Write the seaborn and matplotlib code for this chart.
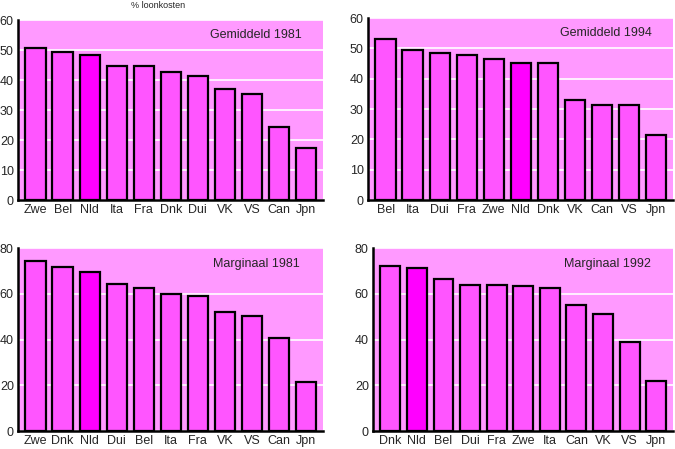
import matplotlib
matplotlib.use("Agg")
import matplotlib.pyplot as plt
import seaborn as sns

# ---------------- data ----------------
gem81_land = ["Zwe", "Bel", "Nld", "Ita", "Fra", "Dnk", "Dui", "VK", "VS", "Can", "Jpn"]
gem81_val = [50.6, 49.2, 48.3, 44.6, 44.6, 42.7, 41.2, 37.0, 35.2, 24.3, 17.3]

gem94_land = ["Bel", "Ita", "Dui", "Fra", "Zwe", "Nld", "Dnk", "VK", "Can", "VS", "Jpn"]
gem94_val = [53.0, 49.4, 48.5, 47.9, 46.4, 45.2, 45.2, 33.0, 31.3, 31.3, 21.3]

marg81_land = ["Zwe", "Dnk", "Nld", "Dui", "Bel", "Ita", "Fra", "VK", "VS", "Can", "Jpn"]
marg81_val = [74.3, 71.7, 69.6, 64.3, 62.5, 60.0, 59.0, 52.2, 50.3, 40.7, 21.6]

marg92_land = ["Dnk", "Nld", "Bel", "Dui", "Fra", "Zwe", "Ita", "Can", "VK", "VS", "Jpn"]
marg92_val = [72.3, 71.2, 66.4, 63.8, 63.8, 63.4, 62.5, 55.0, 51.1, 38.8, 21.8]

titels = ["Gemiddeld 1981", "Gemiddeld 1994", "Marginaal 1981", "Marginaal 1992"]
ytops = [60, 60, 80, 80]
ysteps = [10, 10, 20, 20]

# ---------------- style ----------------
sns.set_style("white")
plt.rcParams["font.family"] = ["Liberation Sans", "DejaVu Sans"]

achtergrond = "#ff99ff"
bar_kleur = "#ff55ff"
nld_kleur = "#ff00ff"

fig = plt.figure(figsize=(6.75, 4.49), dpi=100)
W, H = 675, 449

# axes boxes in pixels: left, top, right, bottom
boxes = [(18, 20, 323, 200), (368, 18, 673, 200), (18, 248, 323, 431), (373, 248, 673, 431)]
panels = [(gem81_land, gem81_val), (gem94_land, gem94_val),
          (marg81_land, marg81_val), (marg92_land, marg92_val)]

for (l, t, r, b), (land, val), titel, ytop, ystep in zip(boxes, panels, titels, ytops, ysteps):
    ax = fig.add_axes([l / W, 1 - b / H, (r - l) / W, (b - t) / H])
    ax.set_facecolor(achtergrond)
    kleuren = [nld_kleur if c == "Nld" else bar_kleur for c in land]
    sns.barplot(x=land, y=val, hue=land, palette=kleuren, legend=False,
                width=0.75, edgecolor="black", linewidth=1.6, saturation=1, ax=ax)
    ax.set_xlim(-0.65, 10.63)
    ax.set_ylim(0, ytop)
    ax.set_yticks(range(0, ytop + 1, ystep))
    ax.yaxis.grid(True, color="white", linewidth=1.2)
    ax.set_axisbelow(True)
    for s in ["top", "right"]:
        ax.spines[s].set_visible(False)
    for s in ["left", "bottom"]:
        ax.spines[s].set_color("black")
        ax.spines[s].set_linewidth(1.8)
    ax.tick_params(axis="both", length=0, labelsize=9, pad=3)
    ax.set_xlabel("")
    ax.set_ylabel("")
    ax.text(0.78, 0.915, titel, transform=ax.transAxes, ha="center", va="center", fontsize=9)

# small title at the very top
fig.text(158 / W, 1 - 1 / H, "% loonkosten", ha="center", va="top", fontsize=6.5)

fig.savefig("out.png", dpi=100)
